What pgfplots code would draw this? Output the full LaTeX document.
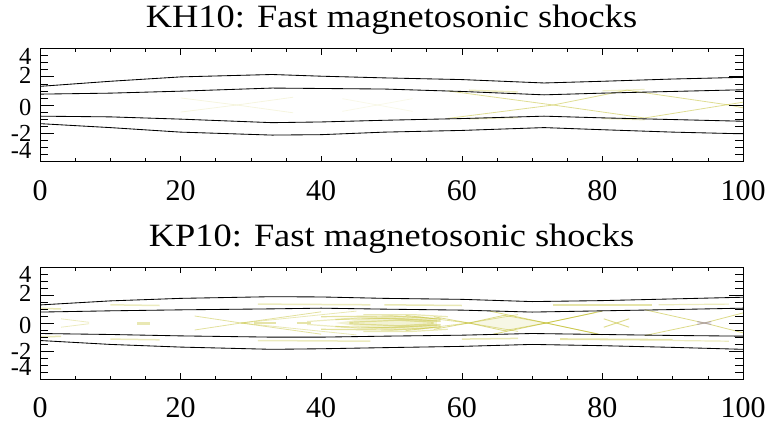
\documentclass[border=0pt]{standalone}
\usepackage{fontspec}
\setmainfont{Liberation Serif}
\newfontfamily\titlefont{Liberation Serif}[FakeStretch=1.12]
\usepackage{pgfplots}
\pgfplotsset{compat=1.18}
\definecolor{shockc}{RGB}{192,188,40}
\definecolor{shockp}{RGB}{150,130,170}
\pgfplotsset{
  base/.style={scale only axis, width=703pt, xmin=0, xmax=100, ymin=-4, ymax=4,
    tick align=inside, axis line style={line width=0.7pt},
    every tick/.style={black, line width=0.6pt}, clip=true},
  xpart/.style={base, xtick={0,20,40,60,80,100}, xticklabels={0,20,40,60,80,100},
    minor x tick num=3, ytick=\empty, major tick length=6pt, minor tick length=3.5pt,
    xticklabel style={font=\fontsize{30}{32}\selectfont, anchor=base, yshift=-38.5pt},
    title style={font=\titlefont\fontsize{32.5}{34}\selectfont, at={(0.5,1)}, anchor=base, yshift=15pt}},
  ypart/.style={base, xtick=\empty, ytick={-4,-2,0,2,4}, yticklabels={},
    minor y tick num=3, major tick length=14pt, minor tick length=8pt},
  ylab/.style={base, xtick=\empty, ytick={-3.2,-2,-0.2,2.1,3.45}, yticklabels={-4,-2,0,2,4},
    major tick length=0pt, axis line style={draw=none}, every tick/.style={draw=none},
    yticklabel style={font=\fontsize{24.5}{26}\selectfont, anchor=east, inner sep=0pt, xshift=-8.5pt}},
  bound/.style={black, line width=0.85pt},
  sh/.style={shockc, line width=0.8pt},
}
\begin{document}
\begin{tikzpicture}
% ---------------- Top panel: KH10 ----------------
\begin{axis}[xpart, height=113pt, at={(40pt,262.5pt)}, anchor=south west,
  title={KH10: Fast magnetosonic shocks}]
\addplot[sh, opacity=0.15] coordinates {(20,0.5) (28,0) (36,-0.55)};
\addplot[sh, opacity=0.15] coordinates {(20,-0.5) (28,0) (36,0.55)};
\addplot[sh, opacity=0.10] coordinates {(43,0.45) (48,0) (53,-0.45)};
\addplot[sh, opacity=0.10] coordinates {(43,-0.45) (48,0) (53,0.45)};
\addplot[sh, opacity=0.50] coordinates {(58,1.0) (73,0) (86,-0.92) (100,0.2)};
\addplot[sh, opacity=0.50] coordinates {(58,-0.95) (73,0) (83.5,1.05) (98,0) (100,-0.2)};
\addplot[sh, opacity=0.30, line width=1.4pt] coordinates {(61,1.05) (68,0.92)};
\addplot[sh, opacity=0.30, line width=1.4pt] coordinates {(61,-0.98) (68,-0.88)};
\addplot[sh, opacity=0.25, line width=1.2pt] coordinates {(80,1.0) (86,1.1)};
\addplot[sh, opacity=0.25, line width=1.2pt] coordinates {(80,-0.95) (86,-1.05)};
\addplot[bound] coordinates {(0,1.32) (10,1.68) (20,1.99) (33,2.16) (40,2.04) (49,1.92) (60,1.8) (71.7,1.56) (80,1.68) (90,1.84) (100,1.96)};
\addplot[bound] coordinates {(0,0.77) (10,0.84) (20,0.98) (33,1.2) (40,1.17) (49,1.13) (60,0.96) (71.7,0.72) (80,0.84) (90,0.96) (100,1.08)};
\addplot[bound] coordinates {(0,-0.79) (10,-0.84) (20,-1.0) (33,-1.25) (40,-1.2) (49,-1.08) (60,-0.96) (71.7,-0.79) (80,-0.91) (90,-1.03) (100,-1.15)};
\addplot[bound] coordinates {(0,-1.32) (10,-1.6) (20,-1.92) (33,-2.13) (40,-2.1) (49,-1.92) (60,-1.8) (71.7,-1.6) (80,-1.75) (90,-1.92) (100,-2.04)};
\end{axis}
\begin{axis}[ypart, height=113pt, at={(40pt,262.5pt)}, anchor=south west]
\end{axis}
\begin{axis}[ylab, height=113pt, at={(40pt,262.5pt)}, anchor=south west]
\end{axis}
% ---------------- Bottom panel: KP10 ----------------
\begin{axis}[xpart, height=112pt, at={(40pt,45pt)}, anchor=south west,
  title={KP10: Fast magnetosonic shocks}]
\addplot[draw=none, fill=shockc, fill opacity=0.20] coordinates {(42,0) (46,0.3) (50,0.55) (54,0.5) (56.5,0.3) (56.5,-0.3) (54,-0.5) (50,-0.55) (46,-0.3) (42,0)};
\addplot[draw=none, fill=shockc, fill opacity=0.12] coordinates {(61,0) (66,0.5) (72,0) (66,-0.5) (61,0)};
\addplot[sh, opacity=0.45, line width=1.2pt] coordinates {(40,0.45) (50,0.5) (57,0.3)};
\addplot[sh, opacity=0.45, line width=1.2pt] coordinates {(40,-0.45) (50,-0.5) (57,-0.3)};
\addplot[sh, opacity=0.40, line width=1.2pt] coordinates {(42,0.25) (50,0.35) (57,0.15)};
\addplot[sh, opacity=0.40, line width=1.2pt] coordinates {(42,-0.25) (50,-0.35) (57,-0.15)};
\addplot[sh, opacity=0.40, line width=1.2pt] coordinates {(44,0.05) (51,0.2) (56,0.05)};
\addplot[sh, opacity=0.40, line width=1.2pt] coordinates {(44,-0.05) (51,-0.2) (56,-0.05)};
\addplot[sh, opacity=0.35, line width=1.2pt] coordinates {(46,0.6) (53,0.6) (58,0.45)};
\addplot[sh, opacity=0.35, line width=1.2pt] coordinates {(46,-0.6) (53,-0.6) (58,-0.45)};
\addplot[sh, opacity=0.30, line width=1.2pt] coordinates {(38,0.1) (46,0.4) (54,0.2) (57,0.1)};
\addplot[sh, opacity=0.30, line width=1.2pt] coordinates {(38,-0.1) (46,-0.4) (54,-0.2) (57,-0.1)};
\addplot[sh, opacity=0.30] coordinates {(3,0.3) (7,0.05)};
\addplot[sh, opacity=0.30] coordinates {(3,-0.3) (7,-0.05)};
\addplot[sh, opacity=0.35, line width=3pt] coordinates {(13.8,0) (15.6,0)};
\addplot[sh, opacity=0.45] coordinates {(22,0.5) (28.6,0) (40,-0.8)};
\addplot[sh, opacity=0.45] coordinates {(22,-0.5) (28.6,0) (40,0.8)};
\addplot[sh, opacity=0.35] coordinates {(28.6,0) (45,0.85)};
\addplot[sh, opacity=0.35] coordinates {(28.6,0) (45,-0.85)};
\addplot[sh, opacity=0.40, line width=2.5pt] coordinates {(30.5,0) (33.5,0)};
\addplot[sh, opacity=0.40, line width=2.5pt] coordinates {(36.5,0) (38.5,0)};
\addplot[sh, opacity=0.30, line width=1.5pt] coordinates {(10,1.3) (17,1.25)};
\addplot[sh, opacity=0.30, line width=1.5pt] coordinates {(10,-1.15) (17,-1.2)};
\addplot[sh, opacity=0.30, line width=1.5pt] coordinates {(31,1.35) (47,1.3)};
\addplot[sh, opacity=0.30, line width=1.5pt] coordinates {(31,-1.25) (47,-1.3)};
\addplot[sh, opacity=0.35, line width=1.5pt] coordinates {(0,1.05) (3,1.0)};
\addplot[sh, opacity=0.35, line width=1.5pt] coordinates {(0,-1.0) (3,-0.95)};
\addplot[sh, opacity=0.55] coordinates {(56,0.45) (61,0) (66,-0.55) (72,0) (79,0.75)};
\addplot[sh, opacity=0.55] coordinates {(56,-0.45) (61,0) (66,0.55) (72,0) (79,-0.75)};
\addplot[sh, opacity=0.45] coordinates {(52,0.55) (61,0) (68,-0.6)};
\addplot[sh, opacity=0.45] coordinates {(52,-0.55) (61,0) (68,0.6)};
\addplot[sh, opacity=0.60] coordinates {(64,0.85) (72,0) (80,-0.85)};
\addplot[sh, opacity=0.60] coordinates {(64,-0.85) (72,0) (80,0.85)};
\addplot[sh, opacity=0.50, line width=1pt] coordinates {(80.2,0.3) (83.8,-0.3)};
\addplot[sh, opacity=0.50, line width=1pt] coordinates {(80.2,-0.3) (83.8,0.3)};
\addplot[sh, opacity=0.55] coordinates {(86,0.95) (94.5,0) (100,-0.7)};
\addplot[sh, opacity=0.55] coordinates {(86,-0.9) (94.5,0) (100,0.72)};
\addplot[shockp, opacity=0.5, line width=1.2pt] coordinates {(93.5,0.1) (95.5,-0.1)};
\addplot[shockp, opacity=0.5, line width=1.2pt] coordinates {(93.5,-0.1) (95.5,0.1)};
\addplot[sh, opacity=0.35, line width=1.5pt] coordinates {(49,1.3) (60,1.25)};
\addplot[sh, opacity=0.35, line width=1.5pt] coordinates {(60,-1.15) (68,-1.1)};
\addplot[sh, opacity=0.40, line width=1.8pt] coordinates {(73,1.3) (87,1.3)};
\addplot[sh, opacity=0.40, line width=1.8pt] coordinates {(74,-1.15) (90,-1.2)};
\addplot[sh, opacity=0.30, line width=1.2pt] coordinates {(88,1.3) (98,1.35)};
\addplot[sh, opacity=0.30, line width=1.2pt] coordinates {(90,-1.25) (98,-1.3)};
\addplot[bound] coordinates {(0,1.29) (10,1.58) (20,1.76) (33,1.88) (40,1.86) (49,1.76) (60,1.69) (70,1.53) (80,1.6) (90,1.72) (100,1.84)};
\addplot[bound] coordinates {(0,0.78) (10,0.87) (20,0.94) (33,1.01) (40,1.06) (49,0.99) (60,0.92) (70,0.78) (80,0.87) (90,0.96) (100,1.06)};
\addplot[bound] coordinates {(0,-0.75) (10,-0.82) (20,-0.92) (33,-1.01) (40,-1.01) (49,-0.94) (60,-0.87) (70,-0.75) (80,-0.82) (90,-0.89) (100,-0.94)};
\addplot[bound] coordinates {(0,-1.25) (10,-1.53) (20,-1.72) (33,-1.88) (40,-1.84) (49,-1.76) (60,-1.67) (70,-1.53) (80,-1.62) (90,-1.74) (100,-1.88)};
\end{axis}
\begin{axis}[ypart, height=112pt, at={(40pt,45pt)}, anchor=south west]
\end{axis}
\begin{axis}[ylab, height=112pt, at={(40pt,45pt)}, anchor=south west]
\end{axis}
\pgfresetboundingbox
\path[use as bounding box] (0,0) rectangle (768pt,424pt);
\end{tikzpicture}
\end{document}
